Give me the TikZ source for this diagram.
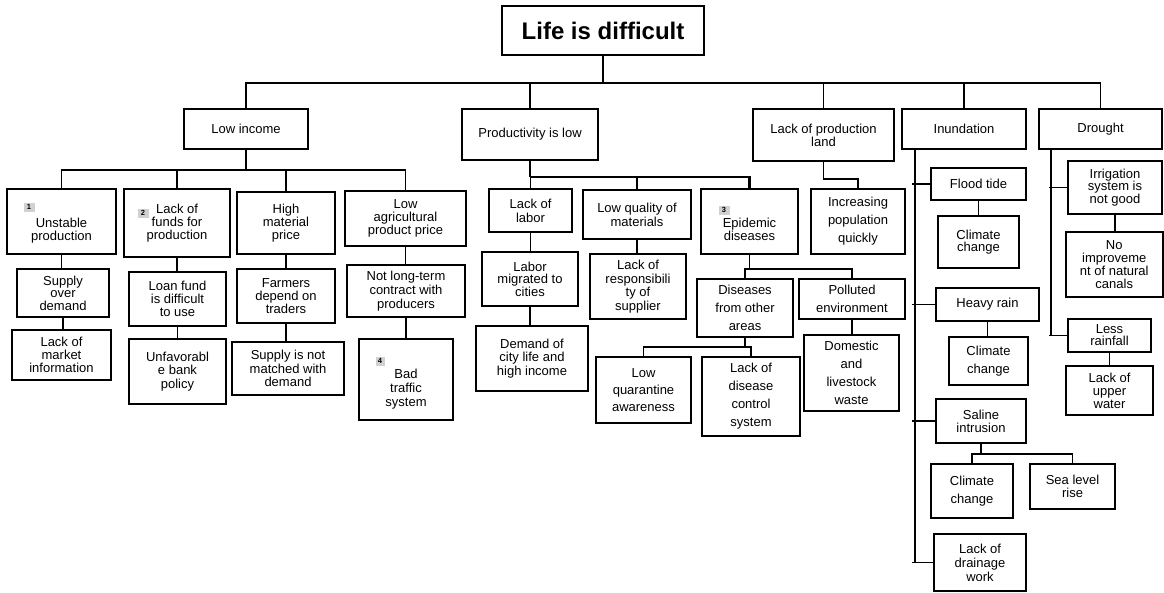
\documentclass[tikz,border=0pt]{standalone}
\usepackage{fontspec}
\setmainfont{Liberation Sans}
\usetikzlibrary{calc}
\tikzset{
  box/.style={draw, line width=2pt, inner sep=0pt, align=center,
              font=\fontsize{13}{13.3}\selectfont},
  loose/.style={font=\fontsize{13}{18}\selectfont},
  txt/.style={inner sep=0pt, align=center, font=\fontsize{13}{13.3}\selectfont},
  conn/.style={line width=1.8pt},
  trunk/.style={line width=2.6pt},
  tagbox/.style={fill=black!18, inner sep=0pt, minimum width=11pt,
    minimum height=9pt, font=\bfseries\fontsize{7.5}{7.5}\selectfont},
}
% \bx{name}{options}{x1}{y1}{x2}{y2}{text}
\newcommand\bx[7]{\node[box,#2,minimum width={#5-#3},minimum height={#6-#4}]
  (#1) at ({(#3+#5)/2},{(#4+#6)/2}) {#7};}
\begin{document}
\begin{tikzpicture}[x=1pt,y=-1pt]
\useasboundingbox (0,0) rectangle (1164,592);

% ---- top level
\bx{root}{line width=1.8pt, font=\bfseries\fontsize{24}{24}\selectfont}{502}{6}{704}{55}{Life is difficult}
\bx{lowinc}{}{184}{109}{308}{149}{Low income}
\bx{prod}{}{462}{109}{598}{160}{Productivity is low}
\bx{land}{}{753}{109}{894}{161}{Lack of production\\land}
\bx{inund}{}{902}{109}{1026}{149}{Inundation}
\bx{drought}{}{1039}{109}{1162}{149}{Drought}

% ---- low income branch
\bx{unstable}{}{7}{189}{116}{254}{}
\node[txt] at ([yshift=-9pt]unstable.center) {Unstable\\production};
\bx{funds}{}{124}{189}{230}{257}{Lack of\\funds for\\production}
\bx{highmat}{}{237}{192}{335}{254}{High\\material\\price}
\bx{lowag}{}{345}{191}{466}{246}{Low\\agricultural\\product price}
\bx{supply}{font=\fontsize{13}{12.5}\selectfont}{17}{269}{109}{317}{Supply\\over\\demand}
\bx{market}{}{12}{330}{111}{380}{Lack of\\market\\information}
\bx{loan}{}{129}{272}{226}{326}{Loan fund\\is difficult\\to use}
\bx{bank}{}{129}{339}{226}{404}{Unfavorabl\\e bank\\policy}
\bx{farmers}{}{237}{269}{335}{323}{Farmers\\depend on\\traders}
\bx{notmatch}{font=\fontsize{13}{13.7}\selectfont}{232}{342}{344}{395}{Supply is not\\matched with\\demand}
\bx{contract}{font=\fontsize{13}{14}\selectfont}{347}{265}{465}{317}{Not long-term\\contract with\\producers}
\bx{traffic}{}{359}{339}{453}{420}{}
\node[txt, font=\fontsize{13}{14}\selectfont] at ([yshift=-9.5pt]traffic.center) {Bad\\traffic\\system};

% ---- productivity branch
\bx{labor}{font=\fontsize{13}{14}\selectfont}{489}{189}{572}{232}{Lack of\\labor}
\bx{lowqual}{font=\fontsize{13}{14}\selectfont}{583}{190}{691}{239}{Low quality of\\materials}
\bx{epidemic}{}{701}{189}{798}{254}{}
\node[txt, font=\fontsize{13}{13}\selectfont] at ([yshift=-8pt]epidemic.center) {Epidemic\\diseases};
\bx{migrated}{font=\fontsize{13}{12.5}\selectfont}{482}{252}{578}{306}{Labor\\migrated to\\cities}
\bx{citylife}{}{476}{326}{588}{391}{Demand of\\city life and\\high income}
\bx{respons}{font=\fontsize{13}{13.5}\selectfont}{590}{254}{686}{319}{Lack of\\responsibili\\ty of\\supplier}
\bx{fromother}{loose}{697}{279}{793}{337}{Diseases\\from other\\areas}
\bx{polluted}{loose}{799}{279}{905}{319}{Polluted\\environment}
\bx{quarant}{font=\fontsize{13}{17.3}\selectfont}{596}{357}{691}{423}{Low\\quarantine\\awareness}
\bx{control}{loose}{702}{357}{800}{436}{Lack of\\disease\\control\\system}
\bx{waste}{loose}{804}{335}{899}{411}{Domestic\\and\\livestock\\waste}

% ---- land branch
\bx{increase}{loose}{811}{189}{905}{254}{Increasing\\population\\quickly}

% ---- inundation branch
\bx{flood}{}{931}{168}{1026}{200}{Flood tide}
\bx{cca}{font=\fontsize{13}{12.7}\selectfont}{938}{216}{1019}{268}{Climate\\change}
\bx{heavy}{}{936}{288}{1039}{321}{Heavy rain}
\bx{ccb}{loose}{949}{337}{1028}{385}{Climate\\change}
\bx{saline}{font=\fontsize{13}{12.7}\selectfont}{936}{399}{1026}{443}{Saline\\intrusion}
\bx{ccc}{font=\fontsize{13}{17.3}\selectfont}{931}{464}{1013}{518}{Climate\\change}
\bx{sealevel}{font=\fontsize{13}{12.7}\selectfont}{1030}{464}{1115}{509}{Sea level\\rise}
\bx{drainage}{font=\fontsize{13}{14}\selectfont}{934}{534}{1026}{591}{Lack of\\drainage\\work}

% ---- drought branch
\bx{irrig}{font=\fontsize{13}{12.5}\selectfont}{1068}{161}{1162}{214}{Irrigation\\system is\\not good}
\bx{canals}{font=\fontsize{13}{13}\selectfont}{1066}{232}{1162.5}{297}{No\\improveme\\nt of natural\\canals}
\bx{lessrain}{font=\fontsize{13}{12}\selectfont}{1068}{319}{1151}{352}{Less\\rainfall}
\bx{upper}{font=\fontsize{13}{13}\selectfont}{1066}{366}{1153}{415}{Lack of\\upper\\water}

% ---- numbered tags
\node[tagbox] (tagA) at (29,207) {1};
\node[tagbox] (tagB) at (143,213) {2};
\node[tagbox] (tagC) at (724,210) {3};
\node[tagbox, minimum width=9pt] (tagD) at (380,361) {4};

% ---- connectors: top level
\draw[trunk] (root.south) -- ++(0,27) coordinate (rb);
\draw[conn] (lowinc.north) |- (rb);
\draw[conn] (prod.north) |- (rb);
\draw[trunk] (rb) -| (inund.north);
\draw[conn] (land.north) -- (land.north |- rb);
\draw[conn] (drought.north) |- (inund.north |- rb);

% low income
\draw[trunk] (lowinc.south) -- ++(0,20) coordinate (lb);
\foreach \n in {unstable,funds,highmat,lowag}
  \draw[conn] (\n.north) |- (lb);
\draw[conn] (unstable.south) -- (unstable.south |- supply.north);
\draw[conn] (supply.south) -- (supply.south |- market.north);
\draw[conn] (funds.south) -- (funds.south |- loan.north);
\draw[conn] (loan.south) -- (loan.south |- bank.north);
\draw[conn] (highmat.south) -- (highmat.south |- farmers.north);
\draw[conn] (farmers.south) -- (farmers.south |- notmatch.north);
\draw[conn] (lowag.south) -- (lowag.south |- contract.north);
\draw[conn] (contract.south) -- (contract.south |- traffic.north);

% productivity
\draw[trunk] (prod.south) -- ++(0,16) coordinate (pb);
\draw[line width=2.2pt] (pb) -| (epidemic.north);
\draw[conn] (labor.north) |- (pb);
\draw[conn] (lowqual.north) |- (pb);
\draw[conn] (labor.south) -- (labor.south |- migrated.north);
\draw[conn] (migrated.south) -- (migrated.south |- citylife.north);
\draw[conn] (lowqual.south) -- (lowqual.south |- respons.north);
\draw[conn] (epidemic.south) -- ++(0,14) coordinate (eb);
\draw[conn] (fromother.north) |- (eb);
\draw[conn] (polluted.north) |- (eb);
\draw[conn] (polluted.south) -- (polluted.south |- waste.north);
\draw[conn] (fromother.south) -- ++(0,9) coordinate (fb);
\draw[conn] (quarant.north) |- (fb);
\draw[conn] (control.north) |- (fb);

% land
\draw[conn] (land.south) -- ++(0,17) -| (increase.north);

% inundation
\coordinate (ib) at ([xshift=14pt]inund.south west);
\draw[conn] (ib) |- (drainage.west);
\foreach \n in {flood,heavy,saline,drainage}
  \draw[conn] (\n.west) -- ([xshift=-3pt]\n.west -| ib);
\draw[conn] (flood.south) -- (flood.south |- cca.north);
\draw[conn] (heavy.south) -- (heavy.south |- ccb.north);
\draw[conn] (saline.south) -- ++(0,10) coordinate (sb);
\draw[conn] (ccc.north) |- (sb);
\draw[conn] (sealevel.north) |- (sb);

% drought
\coordinate (db) at ([xshift=13pt]drought.south west);
\draw[conn] (db) |- (lessrain.west);
\foreach \n in {irrig,lessrain}
  \draw[conn] (\n.west) -- ([xshift=-2pt]\n.west -| db);
\draw[conn] (irrig.south) -- (irrig.south |- canals.north);
\draw[conn] (lessrain.south) -- (lessrain.south |- upper.north);
\end{tikzpicture}
\end{document}
